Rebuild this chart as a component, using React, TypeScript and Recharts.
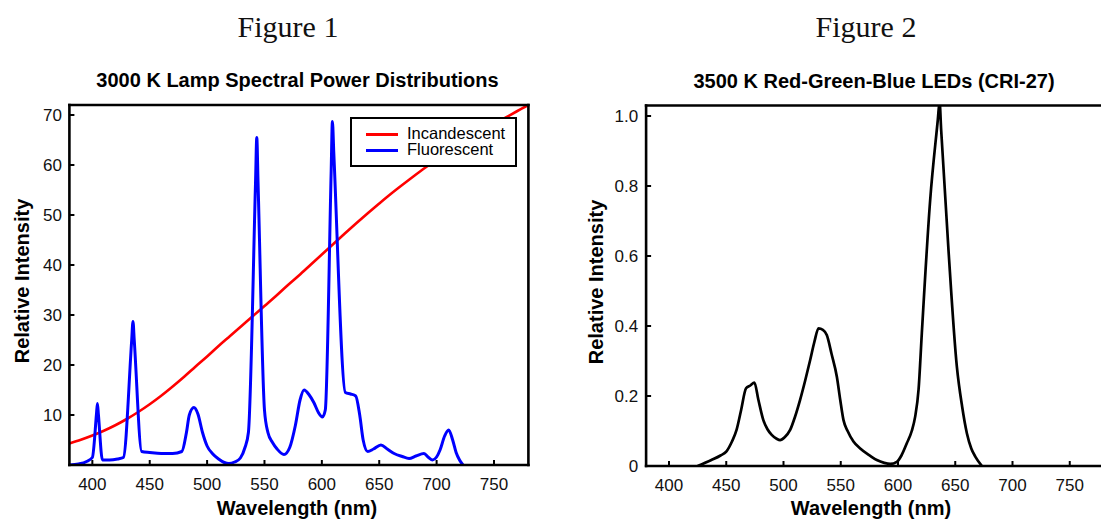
import React from 'react';
import { LineChart, Line, XAxis, YAxis, Legend } from 'recharts';

// ---------- data ----------
const xTicks = [400, 450, 500, 550, 600, 650, 700, 750];
const yTicksLamp = [10, 20, 30, 40, 50, 60, 70];
const yTicksLed = [0, 0.2, 0.4, 0.6, 0.8, 1.0];
const legendOrder = ['Incandescent', 'Fluorescent'];

const incandescentNm = [380, 390, 400, 410, 420, 430, 440, 450, 460, 470, 480, 490, 500, 510, 520, 530, 540, 550, 560, 570, 580, 590, 600, 610, 620, 630, 640, 650, 660, 670, 680, 690, 700, 710, 720, 730, 740, 750, 760, 770, 780];
const incandescentVal = [4.3, 5.05, 5.9, 6.85, 7.95, 9.2, 10.6, 12.15, 13.85, 15.7, 17.65, 19.7, 21.7, 23.8, 25.8, 27.8, 29.8, 31.8, 33.8, 35.9, 37.9, 40.0, 42.1, 44.2, 46.3, 48.35, 50.35, 52.3, 54.2, 56.0, 57.75, 59.45, 61.05, 62.6, 64.05, 65.45, 66.8, 68.15, 69.45, 70.75, 72.0];

const fluorescentNm = [380, 388, 395, 400, 403.6, 404.4, 405.3, 408.8, 415, 422, 427, 434.3, 435.4, 436.5, 443, 450, 460, 470, 478, 482, 484.5, 488.5, 492, 496, 500, 505, 510, 515, 519, 524, 529, 533, 536, 542.2, 543.3, 544.4, 550, 553, 557, 561, 567, 572, 577, 581, 584.5, 589, 593, 597, 600.5, 603, 608.1, 609.2, 610.4, 620.5, 625, 629.5, 633, 636, 640, 645, 651.5, 657, 663, 670, 676, 682, 689, 693, 696.5, 700, 703, 707, 710.5, 714, 717, 720, 723];
const fluorescentVal = [0, 0.2, 0.7, 1.5, 10.2, 12.3, 10.0, 1.0, 1.0, 1.2, 1.5, 25.0, 28.7, 25.0, 2.7, 2.5, 2.3, 2.3, 2.7, 6.5, 10.0, 11.5, 10.2, 6.5, 3.8, 2.2, 1.2, 0.5, 0.3, 0.6, 1.4, 3.5, 6.5, 56.5, 65.5, 56.5, 11.0, 6.5, 4.5, 3.2, 2.1, 3.5, 8.0, 13.0, 15.0, 14.0, 12.5, 10.5, 9.6, 11.0, 58.5, 68.7, 62.5, 14.5, 14.2, 13.8, 10.0, 5.0, 2.7, 3.2, 4.0, 3.2, 2.3, 1.7, 1.3, 1.8, 2.3, 1.5, 1.0, 1.6, 3.0, 5.8, 7.0, 5.0, 2.5, 1.0, 0];

const ledNm = [425, 437, 445, 450, 455, 459, 463, 467.3, 471, 474.6, 478, 482.4, 486, 489.7, 494, 497, 501, 505.8, 510, 514.5, 519, 523.3, 527, 530.6, 534.4, 537.8, 542, 546.6, 549.5, 552.4, 556, 561.1, 567, 575.7, 581.5, 588, 593.2, 599, 603, 607.7, 612, 615, 618, 620.8, 628.1, 634.8, 636.3, 637.7, 644.1, 651.4, 656, 660.2, 664, 667.5, 673.3];
const ledVal = [0, 0.017, 0.03, 0.041, 0.07, 0.103, 0.16, 0.222, 0.23, 0.238, 0.19, 0.131, 0.105, 0.089, 0.078, 0.074, 0.082, 0.103, 0.14, 0.189, 0.245, 0.303, 0.355, 0.393, 0.389, 0.374, 0.32, 0.255, 0.19, 0.131, 0.1, 0.07, 0.05, 0.029, 0.017, 0.009, 0.006, 0.012, 0.03, 0.065, 0.1, 0.141, 0.22, 0.379, 0.76, 0.99, 1.04, 0.96, 0.617, 0.284, 0.17, 0.093, 0.05, 0.027, 0];

const incandescentData = incandescentNm.map((nm, i) => ({ nm, v: incandescentVal[i] }));
const fluorescentData = fluorescentNm.map((nm, i) => ({ nm, v: fluorescentVal[i] }));
const ledData = ledNm.map((nm, i) => ({ nm, v: ledVal[i] }));

// ---------- styles ----------
const FONT = '"Liberation Sans", Arial, sans-serif';
const SERIF = '"Liberation Serif", "Times New Roman", serif';
const axisLineStyle: any = { stroke: '#000', strokeWidth: 2.6, strokeLinecap: 'square' };
const tickLineStyle: any = { stroke: '#000', strokeWidth: 2 };
const tickText: any = { fill: '#111', fontSize: 17, fontFamily: FONT };

const renderLegend = (props: any) => {
  const payload: any[] = (props.payload || []).slice();
  payload.sort((a, b) => legendOrder.indexOf(a.value) - legendOrder.indexOf(b.value));
  return (
    <div
      style={{
        boxSizing: 'border-box',
        width: 167,
        height: 50,
        border: '2px solid #000',
        background: '#fff',
        fontFamily: FONT,
        fontSize: 16.5,
        color: '#000',
        position: 'relative',
      }}
    >
      {payload.map((p: any, i: number) => (
        <div key={i} style={{ position: 'absolute', left: 0, top: 6 + i * 16.7, height: 18, width: '100%' }}>
          <div style={{ position: 'absolute', left: 14, top: 8, width: 32, height: 3, background: p.color }} />
          <div style={{ position: 'absolute', left: 55, top: -1, lineHeight: '18px', whiteSpace: 'nowrap' }}>{p.value}</div>
        </div>
      ))}
    </div>
  );
};

export default function App() {
  return (
    <div style={{ position: 'absolute', left: 0, top: 0, width: 1101, height: 519, overflow: 'hidden', background: '#fff' }}>
      {/* Figure 1 */}
      <div style={{ position: 'absolute', left: 0, top: 0 }}>
        <LineChart width={550} height={519} margin={{ top: 104, right: 20.6, bottom: 24, left: 29.4 }} style={{ fontFamily: FONT }}>
          <XAxis xAxisId="b" type="number" dataKey="nm" domain={[380, 780]} ticks={xTicks} orientation="bottom" height={30}
            tickSize={-5} tickMargin={18} axisLine={axisLineStyle} tickLine={tickLineStyle} tick={tickText} allowDataOverflow />
          <XAxis xAxisId="t" type="number" dataKey="nm" domain={[380, 780]} ticks={xTicks} orientation="top" height={1}
            tickSize={-5} axisLine={axisLineStyle} tickLine={tickLineStyle} tick={false} allowDataOverflow />
          <YAxis yAxisId="l" type="number" domain={[0, 72]} ticks={yTicksLamp} width={40}
            tickSize={-5} tickMargin={12.4} axisLine={axisLineStyle} tickLine={tickLineStyle} tick={tickText} allowDataOverflow />
          <YAxis yAxisId="r" type="number" orientation="right" domain={[0, 72]} ticks={yTicksLamp} width={1}
            tickSize={-5} axisLine={axisLineStyle} tickLine={tickLineStyle} tick={false} allowDataOverflow />
          <Legend layout="vertical" align="center" verticalAlign="middle" content={renderLegend}
            wrapperStyle={{ left: 350, top: 116.5, width: 167, height: 50 }} />
          <Line xAxisId="b" yAxisId="l" data={incandescentData} dataKey="v" name="Incandescent" type="monotone"
            stroke="#ff0000" strokeWidth={2.6} dot={false} activeDot={false} isAnimationActive={false} />
          <Line xAxisId="b" yAxisId="l" data={fluorescentData} dataKey="v" name="Fluorescent" type="monotone"
            stroke="#0000ff" strokeWidth={3} dot={false} activeDot={false} isAnimationActive={false} />
        </LineChart>
      </div>

      {/* Figure 2 */}
      <div style={{ position: 'absolute', left: 560, top: 0 }}>
        <LineChart width={560} height={519} margin={{ top: 104.5, right: 14.9, bottom: 23, left: 46.1 }} style={{ fontFamily: FONT }}>
          <XAxis xAxisId="b" type="number" dataKey="nm" domain={[380, 780]} ticks={xTicks} orientation="bottom" height={30}
            tickSize={-5} tickMargin={18} axisLine={axisLineStyle} tickLine={tickLineStyle} tick={tickText} allowDataOverflow />
          <XAxis xAxisId="t" type="number" dataKey="nm" domain={[380, 780]} ticks={xTicks} orientation="top" height={1}
            tickSize={-5} axisLine={axisLineStyle} tickLine={tickLineStyle} tick={false} allowDataOverflow />
          <YAxis yAxisId="l" type="number" domain={[0, 1.03]} ticks={yTicksLed} width={40}
            tickFormatter={(v: number) => (v === 0 ? '0' : v.toFixed(1))}
            tickSize={-5} tickMargin={13} axisLine={axisLineStyle} tickLine={tickLineStyle} tick={tickText} allowDataOverflow />
          <YAxis yAxisId="r" type="number" orientation="right" domain={[0, 72.1]} ticks={yTicksLamp} width={1}
            tickSize={-5} axisLine={axisLineStyle} tickLine={tickLineStyle} tick={false} allowDataOverflow />
          <Line xAxisId="b" yAxisId="l" data={ledData} dataKey="v" name="RGB LED" type="monotone"
            stroke="#000" strokeWidth={2.7} dot={false} activeDot={false} isAnimationActive={false} />
        </LineChart>
      </div>

      {/* titles & axis labels */}
      <svg width={1101} height={519} style={{ position: 'absolute', left: 0, top: 0, pointerEvents: 'none' }}>
        <text x={288} y={37} textAnchor="middle" fontFamily={SERIF} fontSize={30} fill="#111">Figure 1</text>
        <text x={866} y={37} textAnchor="middle" fontFamily={SERIF} fontSize={30} fill="#111">Figure 2</text>
        <text x={297.5} y={86.5} textAnchor="middle" fontFamily={FONT} fontWeight="bold" fontSize={20} fill="#000">3000 K Lamp Spectral Power Distributions</text>
        <text x={874} y={88} textAnchor="middle" fontFamily={FONT} fontWeight="bold" fontSize={20} fill="#000">3500 K Red-Green-Blue LEDs (CRI-27)</text>
        <text transform="translate(28.5,281) rotate(-90)" textAnchor="middle" fontFamily={FONT} fontWeight="bold" fontSize={20} fill="#000">Relative Intensity</text>
        <text transform="translate(602.6,282) rotate(-90)" textAnchor="middle" fontFamily={FONT} fontWeight="bold" fontSize={20} fill="#000">Relative Intensity</text>
        <text x={297} y={514.5} textAnchor="middle" fontFamily={FONT} fontWeight="bold" fontSize={20} fill="#000">Wavelength (nm)</text>
        <text x={871} y={514.5} textAnchor="middle" fontFamily={FONT} fontWeight="bold" fontSize={20} fill="#000">Wavelength (nm)</text>
      </svg>
    </div>
  );
}
